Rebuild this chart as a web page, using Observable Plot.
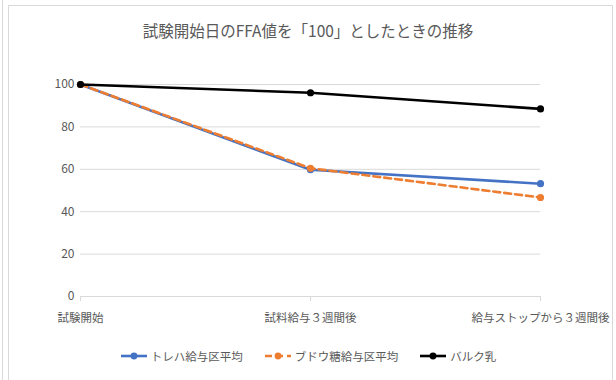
<!DOCTYPE html>
<html>
<head>
<meta charset="utf-8">
<script src="https://cdn.jsdelivr.net/npm/d3@7"></script>
<script src="https://cdn.jsdelivr.net/npm/@observablehq/plot@0.6"></script>
<style>
  html, body { margin: 0; padding: 0; background: #fff; }
  body { width: 616px; height: 380px; position: relative; overflow: hidden;
         font-family: "Noto Sans CJK JP", "Noto Sans", sans-serif; }
  #edge { position: absolute; left: 2px; top: 0; width: 1px; height: 380px; background: #d9d9d9; }
  #frame { position: absolute; left: 8px; top: 5px; width: 605px; height: 380px;
           border: 1px solid #d9d9d9; box-sizing: border-box; }
  #chart { position: absolute; left: 0; top: 0; }
  #title { position: absolute; left: 0; width: 616px; top: 19px; text-align: center;
           font-size: 15.5px; color: #595959; line-height: 22px; }
  #legend { position: absolute; left: 0; width: 616px; top: 347px; height: 18px;
            display: flex; justify-content: center; align-items: center; gap: 21px;
            font-size: 11.5px; color: #595959; box-sizing: border-box; }
  .item { display: flex; align-items: center; gap: 3px; }
</style>
</head>
<body>
<div id="edge"></div>
<div id="frame"></div>
<div id="chart"></div>
<div id="title"></div>
<div id="legend"></div>
<script>
const titleText = "試験開始日のFFA値を「100」としたときの推移";
const categories = ["試験開始", "試料給与３週間後", "給与ストップから３週間後"];
const seriesNames = ["トレハ給与区平均", "ブドウ糖給与区平均", "バルク乳"];
const trehaValues = [100, 59.8, 53.2];
const glucoseValues = [100, 60.5, 46.7];
const bulkValues = [100, 96.1, 88.5];
const seriesColors = ["#4472C4", "#ED7D31", "#000000"];
const seriesDash = [null, "7,4", null];
const yTicks = [0, 20, 40, 60, 80, 100];

const allValues = [trehaValues, glucoseValues, bulkValues];
const rows = [];
seriesNames.forEach((s, i) => {
  categories.forEach((c, j) => rows.push({series: s, cat: c, value: allValues[i][j], idx: i}));
});

const marks = [
  Plot.gridY(yTicks.filter(d => d > 0), {stroke: "#d9d9d9", strokeOpacity: 1, strokeWidth: 1}),
  Plot.ruleY([0], {stroke: "#d9d9d9", strokeWidth: 1}),
  Plot.axisY({ticks: yTicks, tickSize: 0, tickPadding: 6, fontSize: 12, color: "#595959", label: null}),
  Plot.axisX({tickSize: 5, tickPadding: 12, fontSize: 11.5, color: "#595959", stroke: "#d9d9d9", label: null})
];
seriesNames.forEach((s, i) => {
  const data = rows.filter(r => r.series === s);
  marks.push(Plot.line(data, {x: "cat", y: "value", stroke: seriesColors[i], strokeWidth: 2.6,
    strokeDasharray: seriesDash[i] || undefined, curve: "linear"}));
  marks.push(Plot.dot(data, {x: "cat", y: "value", fill: seriesColors[i], r: 3.6}));
});

const chart = Plot.plot({
  width: 616,
  height: 380,
  marginTop: 84,
  marginBottom: 84,
  marginLeft: 80,
  marginRight: 76,
  style: {background: "transparent", fontFamily: "'Noto Sans CJK JP', 'Noto Sans', sans-serif", color: "#595959"},
  x: {type: "point", domain: categories, padding: 0},
  y: {domain: [0, 100]},
  marks
});
document.getElementById("chart").appendChild(chart);
document.getElementById("title").textContent = titleText;

const legend = document.getElementById("legend");
seriesNames.forEach((s, i) => {
  const item = document.createElement("div");
  item.className = "item";
  const svg = d3.create("svg").attr("width", 28).attr("height", 10);
  svg.append("line").attr("x1", 1).attr("x2", 27).attr("y1", 5).attr("y2", 5)
    .attr("stroke", seriesColors[i]).attr("stroke-width", 2.6)
    .attr("stroke-dasharray", seriesDash[i] ? "7,4" : null);
  svg.append("circle").attr("cx", 14).attr("cy", 5).attr("r", 3.4).attr("fill", seriesColors[i]);
  item.appendChild(svg.node());
  const t = document.createElement("span");
  t.textContent = s;
  item.appendChild(t);
  legend.appendChild(item);
});
</script>
</body>
</html>
